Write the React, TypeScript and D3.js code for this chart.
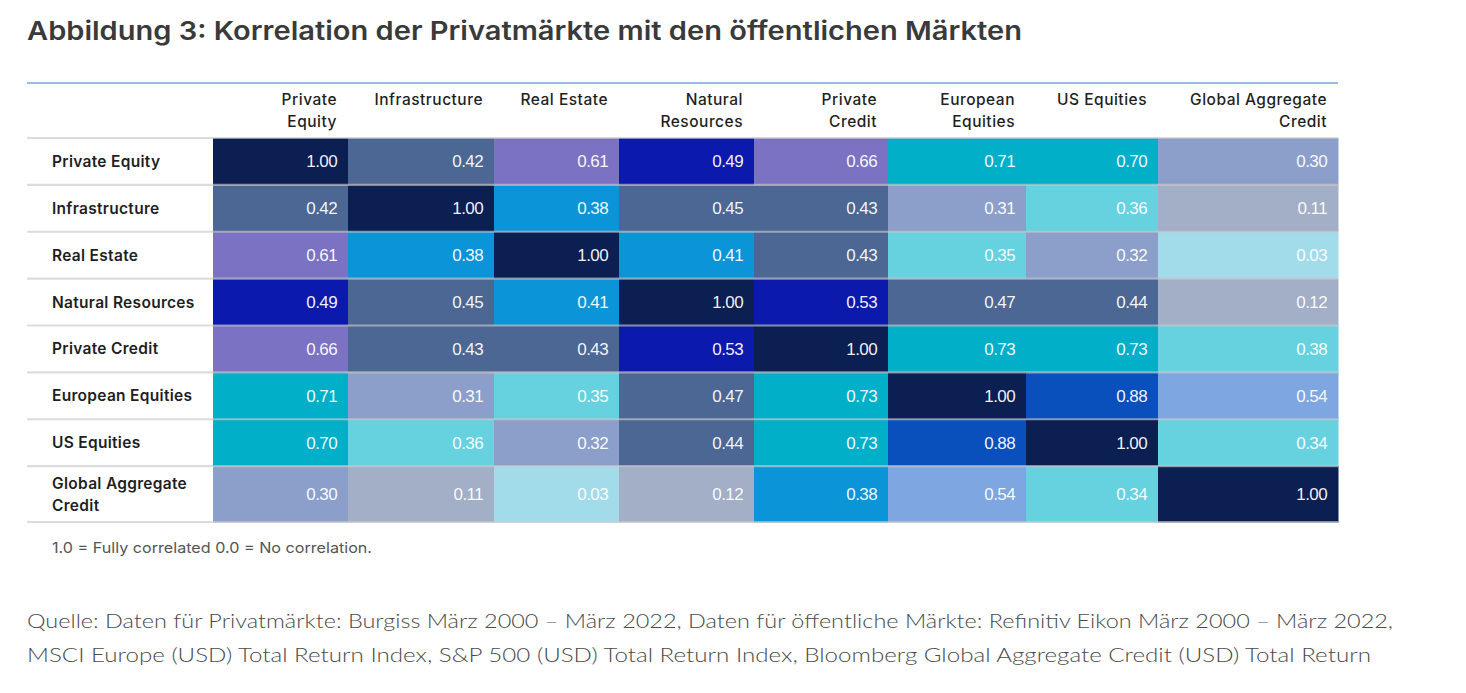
import React from "react";
import * as d3 from "d3";

// ---------- data ----------
const title = "Abbildung 3: Korrelation der Privatmärkte mit den öffentlichen Märkten";
const categories = [
  "Private Equity",
  "Infrastructure",
  "Real Estate",
  "Natural Resources",
  "Private Credit",
  "European Equities",
  "US Equities",
  "Global Aggregate Credit",
];
const rowLabelLines = [
  ["Private Equity"],
  ["Infrastructure"],
  ["Real Estate"],
  ["Natural Resources"],
  ["Private Credit"],
  ["European Equities"],
  ["US Equities"],
  ["Global Aggregate", "Credit"],
];
const colLabelLines = [
  ["Private", "Equity"],
  ["Infrastructure"],
  ["Real Estate"],
  ["Natural", "Resources"],
  ["Private", "Credit"],
  ["European", "Equities"],
  ["US Equities"],
  ["Global Aggregate", "Credit"],
];
const correlations = [
  [1.0, 0.42, 0.61, 0.49, 0.66, 0.71, 0.7, 0.3],
  [0.42, 1.0, 0.38, 0.45, 0.43, 0.31, 0.36, 0.11],
  [0.61, 0.38, 1.0, 0.41, 0.43, 0.35, 0.32, 0.03],
  [0.49, 0.45, 0.41, 1.0, 0.53, 0.47, 0.44, 0.12],
  [0.66, 0.43, 0.43, 0.53, 1.0, 0.73, 0.73, 0.38],
  [0.71, 0.31, 0.35, 0.47, 0.73, 1.0, 0.88, 0.54],
  [0.7, 0.36, 0.32, 0.44, 0.73, 0.88, 1.0, 0.34],
  [0.3, 0.11, 0.03, 0.12, 0.38, 0.54, 0.34, 1.0],
];
// the source shades this one cell in the band of ~0.36 instead of 0.38
const shadeExceptions: [string, string, number][] = [
  ["Private Credit", "Global Aggregate Credit", 0.36],
];
const colourBreaks = [0.05, 0.2, 0.335, 0.375, 0.415, 0.48, 0.535, 0.6, 0.68, 0.8, 0.95];
const colourBands = [
  "#a2dbe9", // ~0.03
  "#a2afc7", // ~0.11
  "#8c9fca", // ~0.30
  "#66d2e0", // ~0.35
  "#0b95d8", // ~0.38-0.41
  "#4c6793", // ~0.42-0.47
  "#0c19ad", // ~0.49-0.53
  "#7ea6e0", // ~0.54
  "#7b72c3", // ~0.61-0.66
  "#02afc8", // ~0.70-0.73
  "#0a50bd", // ~0.88
  "#0b1f52", // 1.00
];
const footnote = "1.0 = Fully correlated 0.0 = No correlation.";
const sourceLines = [
  "Quelle: Daten für Privatmärkte: Burgiss März 2000 – März 2022, Daten für öffentliche Märkte: Refinitiv Eikon März 2000 – März 2022,",
  "MSCI Europe (USD) Total Return Index, S&P 500 (USD) Total Return Index, Bloomberg Global Aggregate Credit (USD) Total Return",
];

// ---------- layout ----------
const W = 1466;
const H = 693;
const tableLeft = 27;
const tableRight = 1338;
const labelColRight = 213;
const headerTop = 83;
const headerBottom = 138;
const colWeights = [135, 146, 125, 135, 134, 138, 132, 180];
const rowWeights = [47, 47, 47, 47, 47, 47, 47, 56];
const rowsBottom = 522;

const uiFont = "Inter, 'Noto Sans', sans-serif";
const srcFont = "Lato, 'Noto Sans', sans-serif";
const numFont = "'Liberation Sans Narrow', 'Liberation Sans', Arial, sans-serif";

export default function App() {
  const colEdges = [0, ...Array.from(d3.cumsum(colWeights))];
  const colX = d3
    .scaleLinear()
    .domain([0, colEdges[colEdges.length - 1]])
    .range([labelColRight, tableRight]);
  const rowEdges = [0, ...Array.from(d3.cumsum(rowWeights))];
  const rowY = d3
    .scaleLinear()
    .domain([0, rowEdges[rowEdges.length - 1]])
    .range([headerBottom, rowsBottom]);
  const colour = d3.scaleThreshold<number, string>().domain(colourBreaks).range(colourBands);

  const shadeValue = (r: number, c: number) => {
    const ex = shadeExceptions.find(
      (e) => e[0] === categories[r] && e[1] === categories[c]
    );
    return ex ? ex[2] : correlations[r][c];
  };
  const fmt = d3.format(".2f");
  const pad = 11;

  return (
    <svg
      width={W}
      height={H}
      style={{ position: "absolute", left: 0, top: 0, background: "#fff" }}
    >
      <text
        x={27}
        y={40}
        fontFamily={uiFont}
        fontWeight={600}
        fontSize={26}
        fill="#3a3a3a"
        textLength={995}
        lengthAdjust="spacingAndGlyphs"
      >
        {title}
      </text>

      {/* top rule */}
      <line x1={tableLeft} x2={tableRight} y1={headerTop} y2={headerTop} stroke="#79a6d6" strokeWidth={1.5} />

      {/* column headers */}
      {colLabelLines.map((lines, c) => (
        <text
          key={"h" + c}
          textAnchor="end"
          fontFamily={uiFont}
          fontSize={15.5}
          fontWeight={500}
          letterSpacing={0.5}
          fill="#1f1f1f"
        >
          {lines.map((l, i) => (
            <tspan key={i} x={colX(colEdges[c + 1]) - pad} y={105 + i * 22}>
              {l}
            </tspan>
          ))}
        </text>
      ))}

      {/* cells */}
      {correlations.map((row, r) =>
        row.map((v, c) => {
          const x0 = colX(colEdges[c]);
          const x1 = colX(colEdges[c + 1]);
          const y0 = rowY(rowEdges[r]);
          const y1 = rowY(rowEdges[r + 1]);
          return (
            <g key={r + "-" + c}>
              <rect x={x0} y={y0} width={x1 - x0 + 0.5} height={y1 - y0 + 0.5} fill={colour(shadeValue(r, c))} />
              <text
                x={x1 - pad}
                y={(y0 + y1) / 2 + 6}
                textAnchor="end"
                fontFamily={numFont}
                fontSize={17}
                letterSpacing={-0.6}
                fill="#ffffff"
                fillOpacity={0.95}
              >
                {fmt(v)}
              </text>
            </g>
          );
        })
      )}

      {/* row labels */}
      {rowLabelLines.map((lines, r) => {
        const y0 = rowY(rowEdges[r]);
        const y1 = rowY(rowEdges[r + 1]);
        const mid = (y0 + y1) / 2;
        const lh = 22;
        const start = mid - ((lines.length - 1) * lh) / 2 + 5.5;
        return (
          <text key={"r" + r} fontFamily={uiFont} fontSize={15.5} fontWeight={600} letterSpacing={0.3} fill="#1f1f1f">
            {lines.map((l, i) => (
              <tspan key={i} x={52} y={start + i * lh}>
                {l}
              </tspan>
            ))}
          </text>
        );
      })}

      {/* row separators */}
      {rowEdges.map((e, i) => (
        <line
          key={"s" + i}
          x1={tableLeft}
          x2={tableRight}
          y1={rowY(e)}
          y2={rowY(e)}
          stroke="#c9c9c9"
          strokeOpacity={0.65}
          strokeWidth={2.2}
        />
      ))}

      <text x={52} y={553} fontFamily={uiFont} fontSize={14.5} fill="#555" textLength={320} lengthAdjust="spacingAndGlyphs">
        {footnote}
      </text>

      {sourceLines.map((l, i) => (
        <text
          key={"src" + i}
          x={27}
          y={628 + i * 34}
          fontFamily={srcFont}
          fontWeight={300}
          fontSize={19}
          fill="#4a4a4a"
          textLength={i === 0 ? 1366 : 1344}
          lengthAdjust="spacingAndGlyphs"
        >
          {l}
        </text>
      ))}
    </svg>
  );
}
